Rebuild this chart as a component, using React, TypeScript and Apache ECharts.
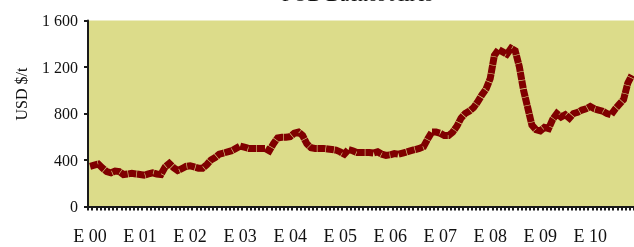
import React, { useEffect, useRef } from "react";
import * as echarts from "echarts";

const monthInitials = ["E", "F", "M", "A", "M", "J", "J", "A", "S", "O", "N", "D"];
const years = ["00", "01", "02", "03", "04", "05", "06", "07", "08", "09", "10"];
const categories: string[] = [];
years.forEach((y) => monthInitials.forEach((m) => categories.push(m + " " + y)));
const cats = categories.slice(0, 131);

// USD $/t, monthly from Jan 2000
const prices = [
  345, 355, 365, 330, 300, 290, 305, 300, 275, 280, 285, 280,
  275, 270, 280, 290, 280, 275, 340, 370, 335, 310, 325, 345,
  350, 340, 330, 330, 360, 400, 420, 450, 460, 470, 480, 500,
  520, 510, 500, 500, 500, 500, 500, 480, 540, 590, 595, 595,
  600, 630, 640, 610, 540, 505, 500, 500, 500, 495, 490, 485,
  470, 450, 490, 480, 465, 465, 465, 465, 460, 470, 450, 440,
  445, 455, 450, 460, 470, 480, 490, 500, 515, 580, 640, 640,
  630, 610, 610, 640, 690, 760, 800, 820, 850, 900, 960, 1010,
  1100, 1300, 1350, 1330, 1310, 1360, 1340, 1200, 1000, 850, 700, 660,
  650, 680, 670, 750, 800, 770, 790, 760, 800, 810, 830, 840,
  860, 840, 830, 820, 800, 790, 840, 880, 920, 1060, 1130,
];

const yTicks = [0, 400, 800, 1200, 1600];
const titleText = "FOB Buenos Aires";
const yName = "USD $/t";

const serif = "Liberation Serif";

export default function App() {
  const ref = useRef<HTMLDivElement>(null);
  useEffect(() => {
    if (!ref.current) return;
    const chart = echarts.init(ref.current, null, { renderer: "svg" });
    chart.setOption({
      animation: false,
      grid: {
        left: 88,
        top: 20.5,
        bottom: 40.5,
        right: -4,
        show: true,
        backgroundColor: "#dcdc8a",
        borderWidth: 0,
      },
      graphic: [
        {
          type: "text",
          left: 282,
          top: -16,
          style: { text: titleText, font: `20px "${serif}"`, fill: "#111" },
        },
        {
          type: "text",
          x: 21,
          y: 94,
          rotation: Math.PI / 2,
          style: {
            text: yName,
            font: `16px "${serif}"`,
            fill: "#111",
            align: "center",
            verticalAlign: "middle",
          },
        },
      ],
      xAxis: {
        type: "category",
        data: cats,
        boundaryGap: true,
        axisLine: { lineStyle: { color: "#1a1a1a", width: 2 } },
        axisTick: { show: true, interval: 0, length: 4, lineStyle: { color: "#1a1a1a", width: 2 } },
        axisLabel: {
          interval: (i: number) => i % 12 === 0,
          margin: 20,
          color: "#111",
          fontFamily: serif,
          fontSize: 18,
        },
        splitLine: { show: false },
      },
      yAxis: {
        type: "value",
        min: yTicks[0],
        max: yTicks[yTicks.length - 1],
        interval: 400,
        axisLine: { show: true, lineStyle: { color: "#1a1a1a", width: 2 } },
        axisTick: { show: true, length: 4, lineStyle: { color: "#1a1a1a", width: 2 } },
        axisLabel: {
          margin: 10,
          color: "#111",
          fontFamily: serif,
          fontSize: 16,
          formatter: (v: number) => String(v).replace(/\B(?=(\d{3})+(?!\d))/g, " "),
        },
        splitLine: { show: false },
      },
      series: [
        {
          type: "line",
          data: prices,
          symbol: "none",
          lineStyle: { color: "#800000", width: 7, type: [8, 0.6], cap: "butt", join: "miter" },
        },
      ],
    });
    return () => chart.dispose();
  }, []);
  return <div ref={ref} style={{ position: "fixed", left: 0, top: 0, width: 634, height: 247 }} />;
}
